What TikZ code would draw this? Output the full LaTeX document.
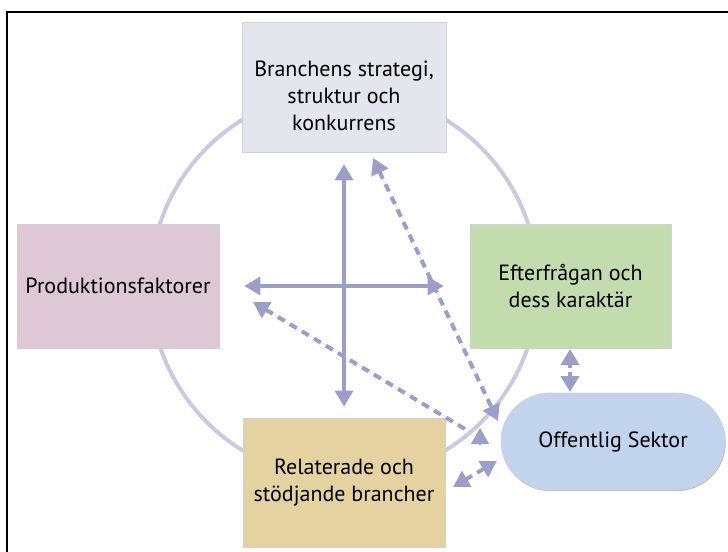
\documentclass[tikz,border=0pt]{standalone}
\usepackage{fontspec}
\setmainfont{PT Sans}
\usetikzlibrary{arrows.meta,shadows}
\definecolor{cTop}{HTML}{E4E6EE}
\definecolor{cProd}{HTML}{DFC8D6}
\definecolor{cEft}{HTML}{C2DCAE}
\definecolor{cRel}{HTML}{E4D3A1}
\definecolor{cOff}{HTML}{C2D3ED}
\definecolor{cArrow}{HTML}{9A9EC9}
\definecolor{cCirc}{HTML}{C8CBE0}
\begin{document}
\begin{tikzpicture}[x=0.75pt,y=-0.75pt,
  box/.style={draw=black!18, line width=0.4pt,
    drop shadow={shadow xshift=0.6pt, shadow yshift=-0.8pt, opacity=0.25, fill=black}},
  txt/.style={align=center, inner sep=0pt, font=\fontsize{16.5}{20}\selectfont},
  bothtips/.style={{Triangle[width=13.5pt,length=12pt]}-{Triangle[width=13.5pt,length=12pt]}},
  solidarrow/.style={draw=cArrow, fill=cArrow, line width=2.4pt, bothtips},
  dashline/.style={draw=cArrow, fill=cArrow, line width=3pt, dash pattern=on 6pt off 4.5pt},
  circ/.style={draw=cCirc, line width=3pt}]
\useasboundingbox (0,0) rectangle (728,552);
\clip (0,0) rectangle (728,552);
% frame
\draw[black, line width=1.5pt] (6.5,560) -- (6.5,12.5) -- (740,12.5);
% circle
\draw[circ] (344,285) circle[radius=145.5pt];
% boxes
\node[box, fill=cTop, minimum width=153pt, minimum height=97.5pt] (strat) at (344,87) {};
\node[txt] (stratT) at (344,96) {Branchens strategi,\\struktur och\\konkurrens};
\node[box, fill=cProd, minimum width=151.5pt, minimum height=93pt, txt] (prod) at (118,286) {Produktionsfaktorer};
\node[box, fill=cEft, minimum width=150.75pt, minimum height=93pt, txt] (eft) at (570.5,286) {Efterfrågan och\\dess karaktär};
\node[box, fill=cRel, minimum width=151.5pt, minimum height=96.75pt, txt] (rel) at (344,482.5) {Relaterade och\\stödjande brancher};
\node[box, fill=cOff, rounded corners=36.3pt, minimum width=168pt, minimum height=72.75pt, txt] (off) at (613,441.5) {Offentlig Sektor};
% solid cross
\draw[solidarrow, shorten <=9pt, shorten >=8.25pt] (strat.south) -- (rel.north);
\draw[solidarrow, shorten <=18.75pt, shorten >=19.5pt] (prod.east) -- (eft.west);
% dashed arrows
\coordinate (d1a) at (373,158);
\coordinate (d1b) at (498,421);
\draw[dashline, bothtips] (d1a) -- (d1b);
\coordinate (d2a) at (253,302);
\coordinate (d2b) at (470,432);
\draw[dashline, {Triangle[width=13.5pt,length=12pt]}-] (d2a) -- (d2b);
\coordinate (d2c) at (480,444);
\coordinate (d2d) at (480,428);
\draw[draw=cArrow, fill=cArrow, line width=1pt, -{Triangle[width=13.5pt,length=12pt]}] (d2c) -- (d2d);
\coordinate (d3a) at (497,461);
\coordinate (d3b) at (453,487);
\draw[dashline, bothtips] (d3a) -- (d3b);
\coordinate (d4a) at (570,349);
\coordinate (d4b) at (570,392);
\draw[dashline, dash pattern=on 3pt off 3pt, bothtips] (d4a) -- (d4b);
\end{tikzpicture}
\end{document}
